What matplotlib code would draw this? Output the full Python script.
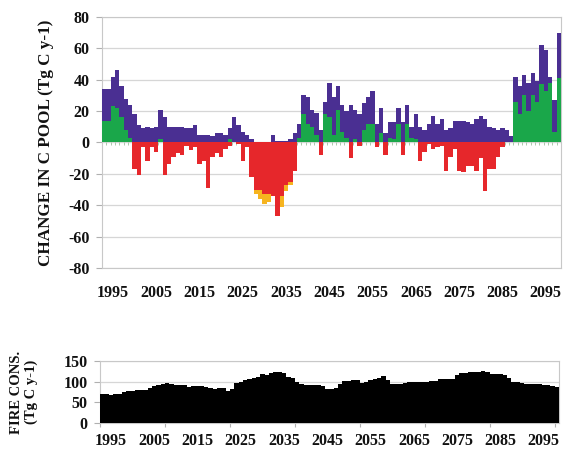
import matplotlib
matplotlib.use("Agg")
import matplotlib.pyplot as plt
import numpy as np

plt.rcParams["font.family"] = ["Liberation Serif", "DejaVu Serif"]
plt.rcParams["font.weight"] = "bold"
plt.rcParams["axes.unicode_minus"] = False

# annual series, 1993-2098
years = np.arange(1993, 2099)

# carbon pool change (Tg C y-1), stacked parts
green_gain = [14, 14, 23, 22, 16, 8, 3, 0, 0, 0, 0, 0, 0, 2, 0, 0, 0, 0, 0, 0,
              0, 0, 0, 0, 0, 0, 0, 0, 0, 2, 0, 0, 0, 0, 0, 0, 0, 0, 0, 0,
              0, 0, 0, 0, 0, 3, 18, 12, 10, 5, 0, 18, 16, 5, 21, 7, 3, 0, 2, 0,
              8, 12, 12, 0, 6, 0, 3, 2, 12, 0, 12, 3, 2, 0, 0, 0, 0, 0, 0, 0,
              0, 0, 0, 0, 0, 0, 0, 0, 0, 0, 0, 0, 0, 0, 0, 26, 18, 30, 20, 30,
              26, 37, 33, 38, 7, 41]
purple_gain = [20, 20, 19, 24, 20, 20, 21, 18, 11, 9, 10, 9, 10, 19, 16, 10, 10, 10, 10, 9,
               9, 11, 5, 5, 5, 4, 6, 6, 5, 7, 16, 11, 7, 5, 2, 0, 0, 0, 0, 5,
               1, 1, 1, 2, 6, 9, 12, 17, 11, 14, 8, 8, 22, 24, 15, 17, 17, 24, 19, 18,
               17, 17, 21, 12, 16, 6, 10, 11, 10, 13, 12, 7, 16, 10, 8, 12, 17, 12, 15, 8,
               9, 14, 14, 14, 13, 12, 15, 17, 15, 10, 9, 8, 9, 8, 4, 16, 18, 13, 18, 14,
               13, 25, 26, 4, 20, 29]
red_loss = [0, 0, 0, 0, 0, 0, 0, -17, -21, -3, -12, -3, -6, 0, -21, -14, -9, -7, -8, -2,
            -5, -3, -14, -12, -29, -9, -7, -9, -4, -2, 0, -1, -12, -3, -22, -30, -30, -33, -33, -34,
            -47, -34, -27, -25, -18, 0, 0, 0, 0, 0, -8, 0, 0, 0, 0, 0, 0, -10, 0, -2,
            0, 0, 0, -3, 0, -8, 0, 0, 0, -8, 0, 0, 0, -12, -6, -1, -4, -3, -2, -18,
            -9, -4, -18, -19, -15, -15, -18, -10, -31, -17, -17, -9, -3, 0, 0, 0, 0, 0, 0, 0,
            0, 0, 0, 0, 0, 0]
orange_loss = [0] * 35 + [-3, -6, -6, -5, 0, 0, -7, -4, -2] + [0] * 62

# fire consumption (Tg C y-1)
fire_cons = [71, 71, 67, 70, 70, 75, 77, 77, 79, 81, 81, 85, 90, 91, 95, 97, 94, 93, 92, 92,
             88, 89, 90, 90, 88, 84, 83, 85, 84, 78, 82, 96, 100, 105, 106, 110, 112, 118, 116, 121,
             123, 123, 122, 112, 108, 99, 94, 93, 93, 92, 93, 89, 83, 83, 85, 95, 102, 102, 103, 103,
             97, 99, 103, 107, 110, 113, 105, 95, 95, 95, 96, 99, 99, 99, 99, 99, 102, 102, 107, 107,
             107, 106, 116, 121, 122, 123, 123, 123, 125, 124, 119, 119, 118, 115, 110, 100, 99, 97, 95, 94,
             94, 94, 93, 92, 90, 87]

label_years = np.arange(1995, 2100, 10)

PURPLE = "#4a2f92"
GREEN = "#1aa74a"
RED = "#e6272b"
ORANGE = "#f6b41f"
GRID = "#d6d6d6"
TXT = "#111111"
TICK_FS = 11.5

fig = plt.figure(figsize=(5.65, 4.65), dpi=100)
ax1 = fig.add_axes([102 / 565, 1 - 268 / 465, 459 / 565, 251 / 465])
ax2 = fig.add_axes([100 / 565, 1 - 423 / 465, 459 / 565, 62 / 465])

# top panel: stacked gains above zero, losses below
ax1.bar(years, green_gain, width=1.0, color=GREEN, lw=0, zorder=3)
ax1.bar(years, purple_gain, width=1.0, bottom=green_gain, color=PURPLE, lw=0, zorder=3)
ax1.bar(years, red_loss, width=1.0, color=RED, lw=0, zorder=3)
ax1.bar(years, orange_loss, width=1.0, bottom=red_loss, color=ORANGE, lw=0, zorder=3)

# category ticks along the zero line
edges = np.append(years - 0.5, years[-1] + 0.5)
ax1.vlines(edges, -1.6, 0, color="#9fbf9f", lw=0.6, zorder=2)
ax1.axhline(0, color=GRID, lw=0.8, zorder=1)

ax1.set_xlim(years[0] - 0.5, years[-1] + 0.5)
ax1.set_ylim(-80, 80)
ax1.set_yticks(np.arange(-80, 81, 20))
ax1.yaxis.grid(True, color=GRID, lw=0.9, zorder=0)
ax1.set_axisbelow(True)
ax1.set_xticks(label_years)
ax1.tick_params(axis="x", length=0, pad=12, labelsize=TICK_FS, colors=TXT)
ax1.tick_params(axis="y", length=4, color="#b0b0b0", width=0.8, pad=5, labelsize=TICK_FS,
                colors=TXT)
for sp in ax1.spines.values():
    sp.set_color("#c8c8c8")
    sp.set_linewidth(0.8)
ax1.set_ylabel("CHANGE IN C POOL (Tg C y-1)", fontsize=12.3, fontweight="bold", color=TXT)
ax1.yaxis.set_label_coords(-0.105, 0.5)

# bottom panel: fire consumption
ax2.bar(years, fire_cons, width=1.0, color="black", lw=0, zorder=3)
ax2.set_xlim(years[0] - 0.5, years[-1] + 0.5)
ax2.set_ylim(0, 150)
ax2.set_yticks([0, 50, 100, 150])
ax2.yaxis.grid(True, color=GRID, lw=0.9, zorder=0)
ax2.set_axisbelow(True)
ax2.set_xticks(label_years)
ax2.set_xticks(edges[::15], minor=True)
ax2.tick_params(axis="x", which="major", length=0, pad=7, labelsize=TICK_FS, colors=TXT)
ax2.tick_params(axis="x", which="minor", length=3, color="#b0b0b0", width=0.8)
ax2.tick_params(axis="y", length=4, color="#b0b0b0", width=0.8, pad=5, labelsize=TICK_FS,
                colors=TXT)
for sp in ax2.spines.values():
    sp.set_color("#c8c8c8")
    sp.set_linewidth(0.8)
ax2.set_ylabel("FIRE CONS.\n(Tg C y-1)", fontsize=10.5, fontweight="bold", color=TXT,
               linespacing=1.15)
ax2.yaxis.set_label_coords(-0.135, 0.5)

fig.savefig("out.png", dpi=100)
